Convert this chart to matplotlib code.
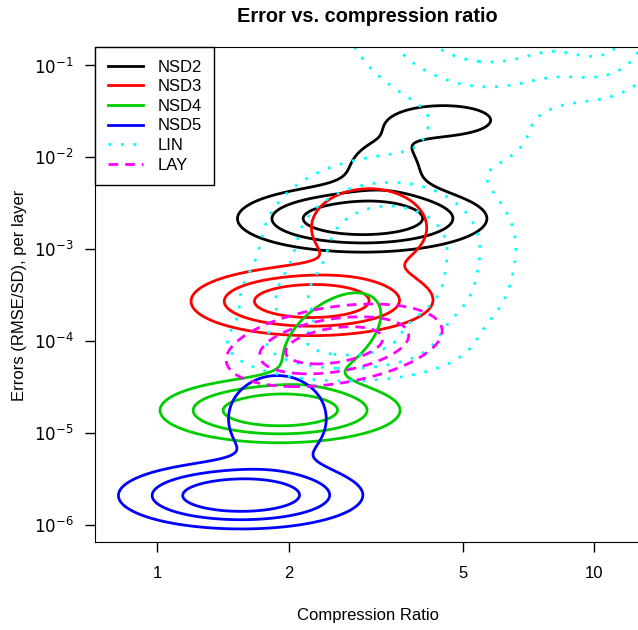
import numpy as np
import matplotlib
matplotlib.use("Agg")
import matplotlib.pyplot as plt
from matplotlib.lines import Line2D
from matplotlib.ticker import NullLocator

plt.rcParams['font.family'] = ['Liberation Sans', 'DejaVu Sans']

# density blobs per method, in log10 space:
# (log10 ratio, log10 error, sd_x, sd_y, corr, weight)
nsd2 = [(0.469, -2.672, 0.133, 0.169, 0.0, 1.00),
        (0.520, -2.150, 0.080, 0.300, 0.0, 0.16),
        (0.660, -1.600, 0.100, 0.150, 0.0, 0.17)]
nsd3 = [(0.352, -3.571, 0.128, 0.174, 0.0, 1.00),
        (0.485, -2.770, 0.112, 0.360, 0.0, 0.20)]
nsd4 = [(0.281, -4.758, 0.128, 0.163, 0.0, 1.00),
        (0.400, -3.950, 0.095, 0.400, 0.5, 0.20)]
nsd5 = [(0.190, -5.684, 0.130, 0.169, 0.0, 1.00),
        (0.275, -4.850, 0.095, 0.400, 0.0, 0.20)]
lin = [(0.760, -0.300, 0.150, 0.550, 0.0, 1.00),
       (1.020, -0.600, 0.070, 0.350, 0.0, 0.50),
       (0.740, -1.820, 0.100, 0.250, 0.0, 0.10),
       (0.530, -2.960, 0.137, 0.450, 0.0, 0.75),
       (0.470, -3.560, 0.137, 0.250, 0.0, 0.50),
       (0.430, -4.050, 0.137, 0.200, 0.0, 0.50)]
lay = [(0.405, -4.050, 0.110, 0.200, 0.35, 1.00)]

levels = {
    'NSD2': [0.10, 0.30, 0.60],
    'NSD3': [0.10, 0.30, 0.60],
    'NSD4': [0.10, 0.30, 0.60],
    'NSD5': [0.10, 0.30, 0.60],
    'LIN': [0.08, 0.24, 0.48],
    'LAY': [0.08, 0.30, 0.60],
}

series = [('NSD2', nsd2, 'black', '-'),
          ('NSD3', nsd3, '#FF0000', '-'),
          ('NSD4', nsd4, '#00CD00', '-'),
          ('NSD5', nsd5, '#0000FF', '-'),
          ('LIN', lin, '#00FFFF', (0, (1, 3.5))),
          ('LAY', lay, '#FF00FF', (0, (3.5, 2.5)))]

gx = np.linspace(-0.4, 1.5, 500)
gy = np.linspace(-7.0, 0.6, 800)
LX, LY = np.meshgrid(gx, gy)


def density(blobs):
    z = np.zeros_like(LX)
    for cx, cy, sx, sy, r, w in blobs:
        dx = (LX - cx) / sx
        dy = (LY - cy) / sy
        q = (dx**2 - 2 * r * dx * dy + dy**2) / (1 - r**2)
        z += w * np.exp(-0.5 * q)
    return z


W, H = 638, 630
fig = plt.figure(figsize=(W / 100, H / 100), dpi=100)
# plot region in pixels: x 95..641, y 47..542
ax = fig.add_axes([95 / W, (H - 542) / H, (641 - 95) / W, (542 - 47) / H])

for name, blobs, col, ls in series:
    cs = ax.contour(10**LX, 10**LY, density(blobs), levels=levels[name],
                    colors=col, linewidths=2.0)
    cs.set_linestyle(ls)

ax.set_xscale('log')
ax.set_yscale('log')
ax.set_xlim(10**((95 - 157.3) / 436.7), 10**((641 - 157.3) / 436.7))
ax.set_ylim(10**-6.19, 10**-0.804)

ax.set_xticks([1, 2, 5, 10])
ax.set_xticklabels(['1', '2', '5', '10'])
ax.xaxis.set_minor_locator(NullLocator())
ax.yaxis.set_minor_locator(NullLocator())
ax.set_yticks([1e-6, 1e-5, 1e-4, 1e-3, 1e-2, 1e-1])
ax.set_yticklabels([r'$10^{-%d}$' % k for k in [6, 5, 4, 3, 2, 1]])
ax.tick_params(length=7.5, width=1, labelsize=12, pad=8)
ax.tick_params(axis='x', pad=10)
ax.spines['right'].set_visible(False)

fig.text(368 / W, 1 - 620 / H, 'Compression Ratio', ha='center',
         va='baseline', fontsize=12)
fig.text(20 / W, 1 - 295 / H, 'Errors (RMSE/SD), per layer', ha='center',
         va='center', rotation=90, fontsize=12)
fig.text(367 / W, 1 - 22.5 / H, 'Error vs. compression ratio',
         ha='center', va='baseline', fontsize=14.4, fontweight='bold')

handles = [Line2D([], [], color=col, lw=2.0, ls=ls) for _, _, col, ls in series]
leg = ax.legend(handles, [s[0] for s in series], loc='upper left',
                bbox_to_anchor=(0, 1), borderaxespad=0, fontsize=12,
                fancybox=False, edgecolor='black', framealpha=1,
                handlelength=2.1, handletextpad=0.9, labelspacing=0.28,
                borderpad=0.75)
leg.get_frame().set_linewidth(1)

fig.savefig('out.png', dpi=100)
